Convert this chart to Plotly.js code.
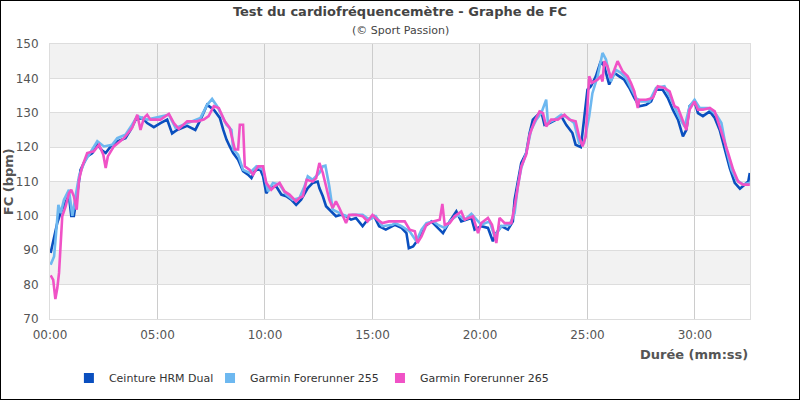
<!DOCTYPE html>
<html>
<head>
<meta charset="utf-8">
<script src="https://cdn.plot.ly/plotly-3.0.1.min.js"></script>
<style>
html,body{margin:0;padding:0;background:#fff;}
#chart{width:800px;height:400px;box-sizing:border-box;border:1px solid #000;}
</style>
</head>
<body>
<div id="chart"></div>
<script>
// Time in minutes, heart rate in bpm
const hrmTime = [0.03,0.19,0.34,0.50,0.73,0.88,0.99,1.11,1.27,1.35,1.42,1.58,1.73,1.97,2.20,2.43,2.59,2.82,3.13,3.51,3.75,3.98,4.29,4.52,4.83,5.14,5.45,5.68,5.91,6.38,6.76,7.00,7.31,7.62,7.90,
  8.06,8.21,8.36,8.52,8.75,8.98,9.21,9.37,9.52,9.75,9.91,10.06,10.22,10.52,10.76,10.99,11.22,11.45,11.68,11.84,11.99,12.22,12.45,12.53,12.69,12.84,13.07,13.30,13.53,13.77,14.00,14.23,14.54,14.77,15.08,15.31,15.62,15.93,
  16.04,16.35,16.58,16.69,16.89,17.12,17.43,17.74,18.05,18.28,18.59,18.90,19.13,19.37,19.60,19.75,20.06,20.37,20.60,20.76,20.99,21.30,21.53,21.61,21.76,21.92,22.15,22.31,22.46,22.69,22.85,23.00,23.24,23.54,23.78,24.01,
  24.30,24.45,24.69,24.84,25.00,25.16,25.39,25.62,25.78,26.01,26.25,26.48,26.71,26.95,27.18,27.41,27.73,27.96,28.19,28.50,28.74,28.97,29.21,29.44,29.60,29.75,29.98,30.14,30.37,30.69,30.92,31.15,31.39,31.62,31.85,32.09,32.32,32.48,32.55];
const hrmBpm = [89.2,94,98,101,104,106,100,100,106.6,110.5,113.4,115.4,117.3,118.3,120.7,119,118.3,120.2,121.7,122.6,125,128,128.5,127,125.8,127,128,124,125,126.2,125,128,132.3,130.9,128.5,
  125,122.2,120.2,118.3,116.3,113,112,111,113,113.9,111.5,106.6,108.1,108.6,106.2,105.7,104.7,103.2,104.7,106.6,108.1,109.6,110,108.1,105.7,102.8,101.3,99.9,100.3,99.9,98.9,99.4,97,98.9,99.9,97,96,97,
  97.4,96.5,95,90.6,91.1,93.1,96.9,98.4,96.5,95,98.4,101.3,98.4,98.9,99.4,96,97,96.5,92.6,95,97,96,98.4,104.7,110.5,115.4,118.3,124.1,128,129.4,130.4,126.5,127,128,129,126.5,
  124.1,120.7,120,128,136.7,137.7,140.6,145,143.5,138.2,141.6,140.6,139.6,137.2,134.3,131.9,132.3,133.3,136.7,136.7,134.3,130.9,128,123.1,125,131.9,133.3,129.9,129,130.4,128.5,125,119.3,113.9,109.6,107.9,109.1,110,112.5];

const fr255Time = [0.03,0.19,0.31,0.39,0.50,0.65,0.88,1.04,1.19,1.35,1.58,1.81,2.20,2.51,2.89,3.13,3.51,3.82,4.06,4.52,5.22,5.53,5.84,6.38,7.00,7.31,7.54,7.77,
  8.08,8.21,8.44,8.52,8.75,8.98,9.29,9.60,9.91,10.14,10.37,10.68,10.99,11.30,11.60,11.84,11.99,12.22,12.53,12.69,12.81,12.99,13.15,13.46,13.77,14.07,14.54,14.85,15.15,15.46,15.93,
  16.04,16.35,16.73,17.04,17.28,17.51,17.82,18.05,18.36,18.67,18.98,19.29,19.60,19.83,20.06,20.45,20.68,20.99,21.38,21.61,21.76,21.92,22.15,22.38,22.62,22.85,23.08,23.16,23.47,23.78,24.09,
  24.38,24.61,24.84,25.08,25.23,25.47,25.70,25.86,26.09,26.32,26.56,26.79,27.02,27.26,27.49,27.88,28.19,28.58,28.82,29.05,29.28,29.52,29.75,29.98,30.22,30.61,31.00,31.23,31.46,31.70,31.93,32.24,32.55];
const fr255Bpm = [85.8,88.2,97,103.2,100.8,104.7,107.6,100,105.7,111.5,115.4,117.8,121.7,120.2,120.7,122.6,123.6,126.5,129,128,129,129.4,125.6,127,128.5,132.3,134,131.9,
  128,126.5,125,119.3,117.8,113.4,112.5,114.4,113.4,107.1,109.6,109.1,106.2,104.7,105.2,108.6,111.5,110.5,112.5,114.4,114.6,108.6,101.8,100.8,99.9,100.3,100.3,98.9,99.9,97,97.4,
  97.9,97,95.5,92.6,96,97.9,98.4,97.4,96.5,98.9,100.3,98.9,100.6,98.9,97.4,98.4,94,97,97.4,100.8,108.6,113.9,118.3,125,128,129.9,133.8,127,128,129.4,128.5,
  127,121.2,121.2,129,135.7,140.6,147.4,145.5,139.1,142.5,141.6,140.1,137.2,134.3,133.3,133.3,137.2,137.7,134.8,131.4,128.5,126,131.9,133.8,131.4,131.4,129.4,127,119.3,113.4,110.5,109.1,109.6];

const fr265Time = [0.03,0.15,0.25,0.34,0.42,0.50,0.57,0.73,0.88,0.99,1.11,1.24,1.35,1.50,1.73,2.04,2.28,2.48,2.59,2.69,2.97,3.44,3.82,4.06,4.21,4.37,4.52,4.67,5.14,5.53,5.76,5.99,6.38,6.84,7.15,7.38,7.62,7.85,
  8.13,8.36,8.60,8.75,8.83,8.98,9.06,9.29,9.44,9.68,9.91,10.06,10.29,10.45,10.68,10.91,11.14,11.45,11.60,11.76,11.94,12.22,12.38,12.53,12.69,12.84,12.99,13.15,13.30,13.46,13.61,13.77,13.92,14.23,14.54,14.77,15.00,15.23,15.46,15.77,
  16.04,16.50,16.73,16.97,17.09,17.28,17.51,17.82,18.13,18.25,18.36,18.59,18.82,19.13,19.29,19.67,19.91,20.06,20.37,20.56,20.76,20.91,21.15,21.46,21.61,21.76,21.92,22.15,22.31,22.54,22.77,22.93,23.08,23.31,23.62,23.93,24.16,
  24.45,24.61,24.77,24.92,25.08,25.20,25.47,25.62,25.70,25.78,25.93,26.09,26.25,26.40,26.64,26.87,27.02,27.18,27.34,27.41,27.73,28.04,28.27,28.58,28.82,29.05,29.21,29.44,29.60,29.75,29.98,30.14,30.37,30.69,30.92,31.15,31.31,31.54,31.78,32.01,32.24,32.55];
const fr265Bpm = [82.7,81.4,75.8,79,83.4,94,99.9,102.8,106.6,107.6,105.7,101.8,110.5,114.4,118.3,118.8,120.7,117.8,113.9,117.3,120.2,122.6,125.6,129.4,125,128.5,129.4,128,128,129.7,127,125.3,127.5,127.5,128,129,131.9,131.4,
  127.5,125.6,119.3,119.3,126.5,126.5,114.4,113.4,112,114.4,114.4,109.6,107.6,108.6,109.6,107.1,106.2,104.2,105.2,105.7,110.5,110,111,115.4,112.5,108.6,104.7,102.3,104.2,102.3,99.9,97.9,100.3,100.3,99.9,98.4,100.3,98.9,97.9,98.4,
  98.4,98.4,96,95.5,92.1,94,97.4,98.4,98.9,103.5,97.4,97.9,99.9,101.3,98.9,99.9,95,97.9,99.4,97.4,92.1,99.4,97.9,97.9,102.8,108.6,114.4,117.8,123.6,127.5,130.4,129.9,126,128,128,129.4,128,
  127.5,123.1,120.2,123.1,140.6,138.7,139.6,140.6,139.1,145,143.5,140.1,142.5,145,142,140.6,138.7,136.2,131.4,133.8,133.8,134.3,137.7,137.2,136.2,131.9,131.4,127.5,125,130.9,133.3,130.9,130.9,131.4,130.4,126,123.1,118.3,113.4,110,109.1,109.1];

const seriesNames = ['Ceinture HRM Dual','Garmin Forerunner 255','Garmin Forerunner 265'];
const tickMinutes = [0,5,10,15,20,25,30];
const tickLabels = ['00:00','05:00','10:00','15:00','20:00','25:00','30:00'];
const bandStarts = [80,100,120,140];

const colors = ['#0a4fbf','#6db8f0','#f052c6'];
const FONT = 'DejaVu Sans, Verdana, sans-serif';

const xs = [hrmTime, fr255Time, fr265Time];
const ys = [hrmBpm, fr255Bpm, fr265Bpm];
const legendIds = ['legend','legend2','legend3'];
const legendX = [0.027, 0.2286, 0.4714];

const traces = [];
for (let i = 0; i < 3; i++) {
  traces.push({type:'scatter', mode:'lines', x:xs[i], y:ys[i], name:seriesNames[i],
    line:{color:colors[i], width:2.6}, showlegend:false, hoverinfo:'skip'});
}
for (let i = 0; i < 3; i++) {
  traces.push({type:'scatter', mode:'markers', x:[null], y:[null], name:seriesNames[i], legend:legendIds[i],
    marker:{color:colors[i], symbol:'square', size:10}, showlegend:true});
}

const shapes = bandStarts.map(b => ({type:'rect', xref:'paper', x0:0, x1:1, yref:'y', y0:b, y1:b+10,
  fillcolor:'#f2f2f2', line:{width:0}, layer:'below'}));

const layout = {
  width:798, height:398,
  margin:{l:49, r:49, t:43, b:80},
  paper_bgcolor:'#fff', plot_bgcolor:'#fff',
  font:{family:FONT, size:12, color:'#555'},
  title:{text:'Test du cardiofréquencemètre - Graphe de FC', x:0.5, xref:'container', xanchor:'center',
    y:1-10/398, yref:'container', yanchor:'middle',
    font:{family:FONT, size:13, color:'#444', weight:'bold'}},
  xaxis:{range:[0,32.56], tickvals:tickMinutes, ticktext:tickLabels, showgrid:true, gridcolor:'#cccccc', gridwidth:1,
    zeroline:false, showline:true, linecolor:'#dddddd', mirror:true, ticks:'', ticklabelstandoff:5, automargin:false,
    tickfont:{family:FONT, size:12, color:'#555'}, fixedrange:true},
  yaxis:{range:[70,150], dtick:10, tick0:70, showgrid:true, gridcolor:'#dddddd', gridwidth:1,
    zeroline:false, showline:true, linecolor:'#dddddd', mirror:true, ticks:'', ticklabelstandoff:8, automargin:false,
    tickfont:{family:FONT, size:12, color:'#555'}, fixedrange:true},
  shapes:shapes,
  annotations:[
    {text:'(© Sport Passion)', xref:'paper', yref:'paper', x:0.5, y:1.049, xanchor:'center', yanchor:'middle',
     showarrow:false, font:{family:FONT, size:11, color:'#444'}},
    {text:'<b>Durée (mm:ss)</b>', xref:'paper', yref:'paper', x:1, y:-0.13, xanchor:'right', yanchor:'middle',
     showarrow:false, font:{family:FONT, size:13, color:'#555'}},
    {text:'<b>FC (bpm)</b>', xref:'paper', yref:'paper', x:-0.059, y:0.5, xanchor:'center', yanchor:'middle',
     textangle:-90, showarrow:false, font:{family:FONT, size:13, color:'#555'}}
  ]
};
legendIds.forEach((id, i) => {
  layout[id] = {orientation:'h', x:legendX[i], xanchor:'left', xref:'paper', y:0.0528, yref:'container', yanchor:'middle',
    font:{family:FONT, size:11, color:'#333'}, itemwidth:30, bgcolor:'rgba(0,0,0,0)'};
});

Plotly.newPlot('chart', traces, layout, {staticPlot:true, displayModeBar:false});
</script>
</body>
</html>
